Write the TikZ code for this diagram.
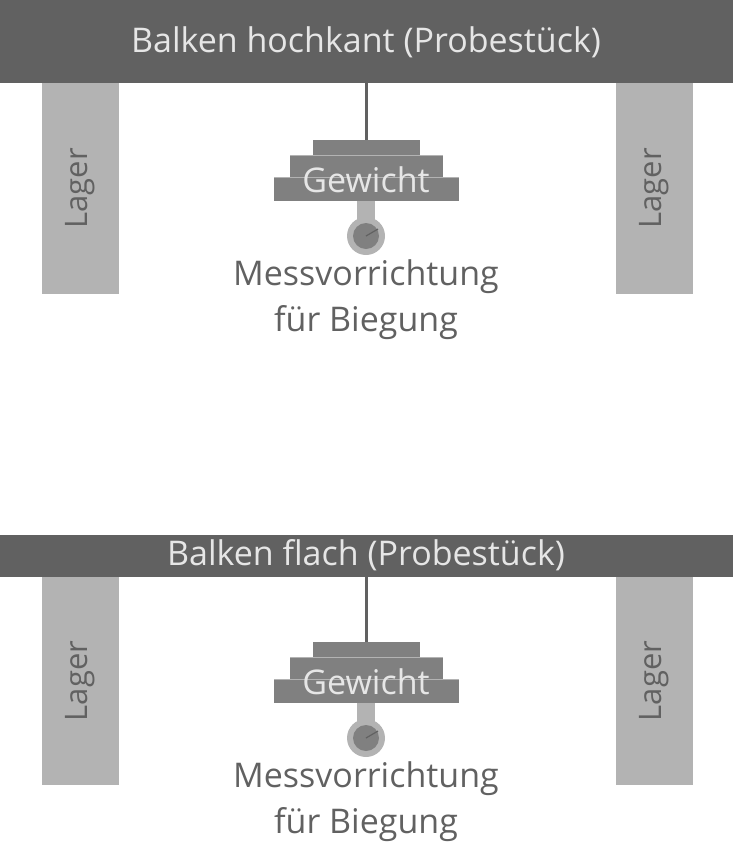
\documentclass[tikz,border=0pt]{standalone}
\usepackage{fontspec}
\setmainfont{Open Sans}
\definecolor{beamgray}{HTML}{616161}
\definecolor{lagergray}{HTML}{B3B3B3}
\definecolor{weightgray}{HTML}{808080}
\definecolor{textlight}{HTML}{E6E6E6}
\tikzset{
  beam/.style={fill=beamgray, draw=none},
  lagertext/.style={rotate=90, text=beamgray, font=\fontsize{31}{31}\selectfont},
  weightstep/.style={fill=weightgray, draw=none},
  label/.style={text=beamgray, align=center, font=\fontsize{34}{46}\selectfont}
}
\begin{document}
\begin{tikzpicture}[x=1pt,y=-1pt]
  \useasboundingbox (0,0) rectangle (733,847);
  % one test set-up, shifted down for the second
  \foreach \dy/\top/\bot/\lend/\txt/\ty in {0/0/83/294/{Balken hochkant (Probestück)}/42, 502/535/577/785/{Balken flach (Probestück)}/555}{
    \begin{scope}
      % beam
      \fill[beam] (0,\top) rectangle (733,\bot);
      \node[text=textlight, font=\fontsize{34}{34}\selectfont] (title) at (366,\ty) {\txt};
      % supports
      \fill[lagergray] (42,\bot) rectangle (119,\lend);
      \fill[lagergray] (616,\bot) rectangle (693,\lend);
      \node[lagertext] (lagerL) at (80.5,{(\bot+\lend)/2}) {Lager};
      \node[lagertext] (lagerR) at (654.5,{(\bot+\lend)/2}) {Lager};
      % rope and weight
      \draw[beamgray, line width=3pt] (366,\bot) -- (366,140+\dy);
      \fill[weightstep] (313,140+\dy) rectangle (420,155+\dy);
      \fill[weightstep] (290,155+\dy) rectangle (443,177+\dy);
      \fill[weightstep] (274,177+\dy) rectangle (459,201+\dy);
      \draw[lagergray, line width=0.8pt] (290,155+\dy) -- (443,155+\dy) (274,177+\dy) -- (459,177+\dy);
      \node[text=textlight, font=\fontsize{34}{34}\selectfont] (gewicht) at (366,180+\dy) {Gewicht};
      % gauge
      \fill[lagergray] (357,201+\dy) rectangle (375,228+\dy);
      \fill[lagergray] (366,236+\dy) circle (19);
      \fill[weightgray] (366,236+\dy) circle (13);
      \draw[beamgray, line width=1.2pt] (366,236+\dy) -- (378,229+\dy);
      \node[label] (mess) at (366,300+\dy) {Messvorrichtung\\für Biegung};
    \end{scope}
  }
\end{tikzpicture}
\end{document}
